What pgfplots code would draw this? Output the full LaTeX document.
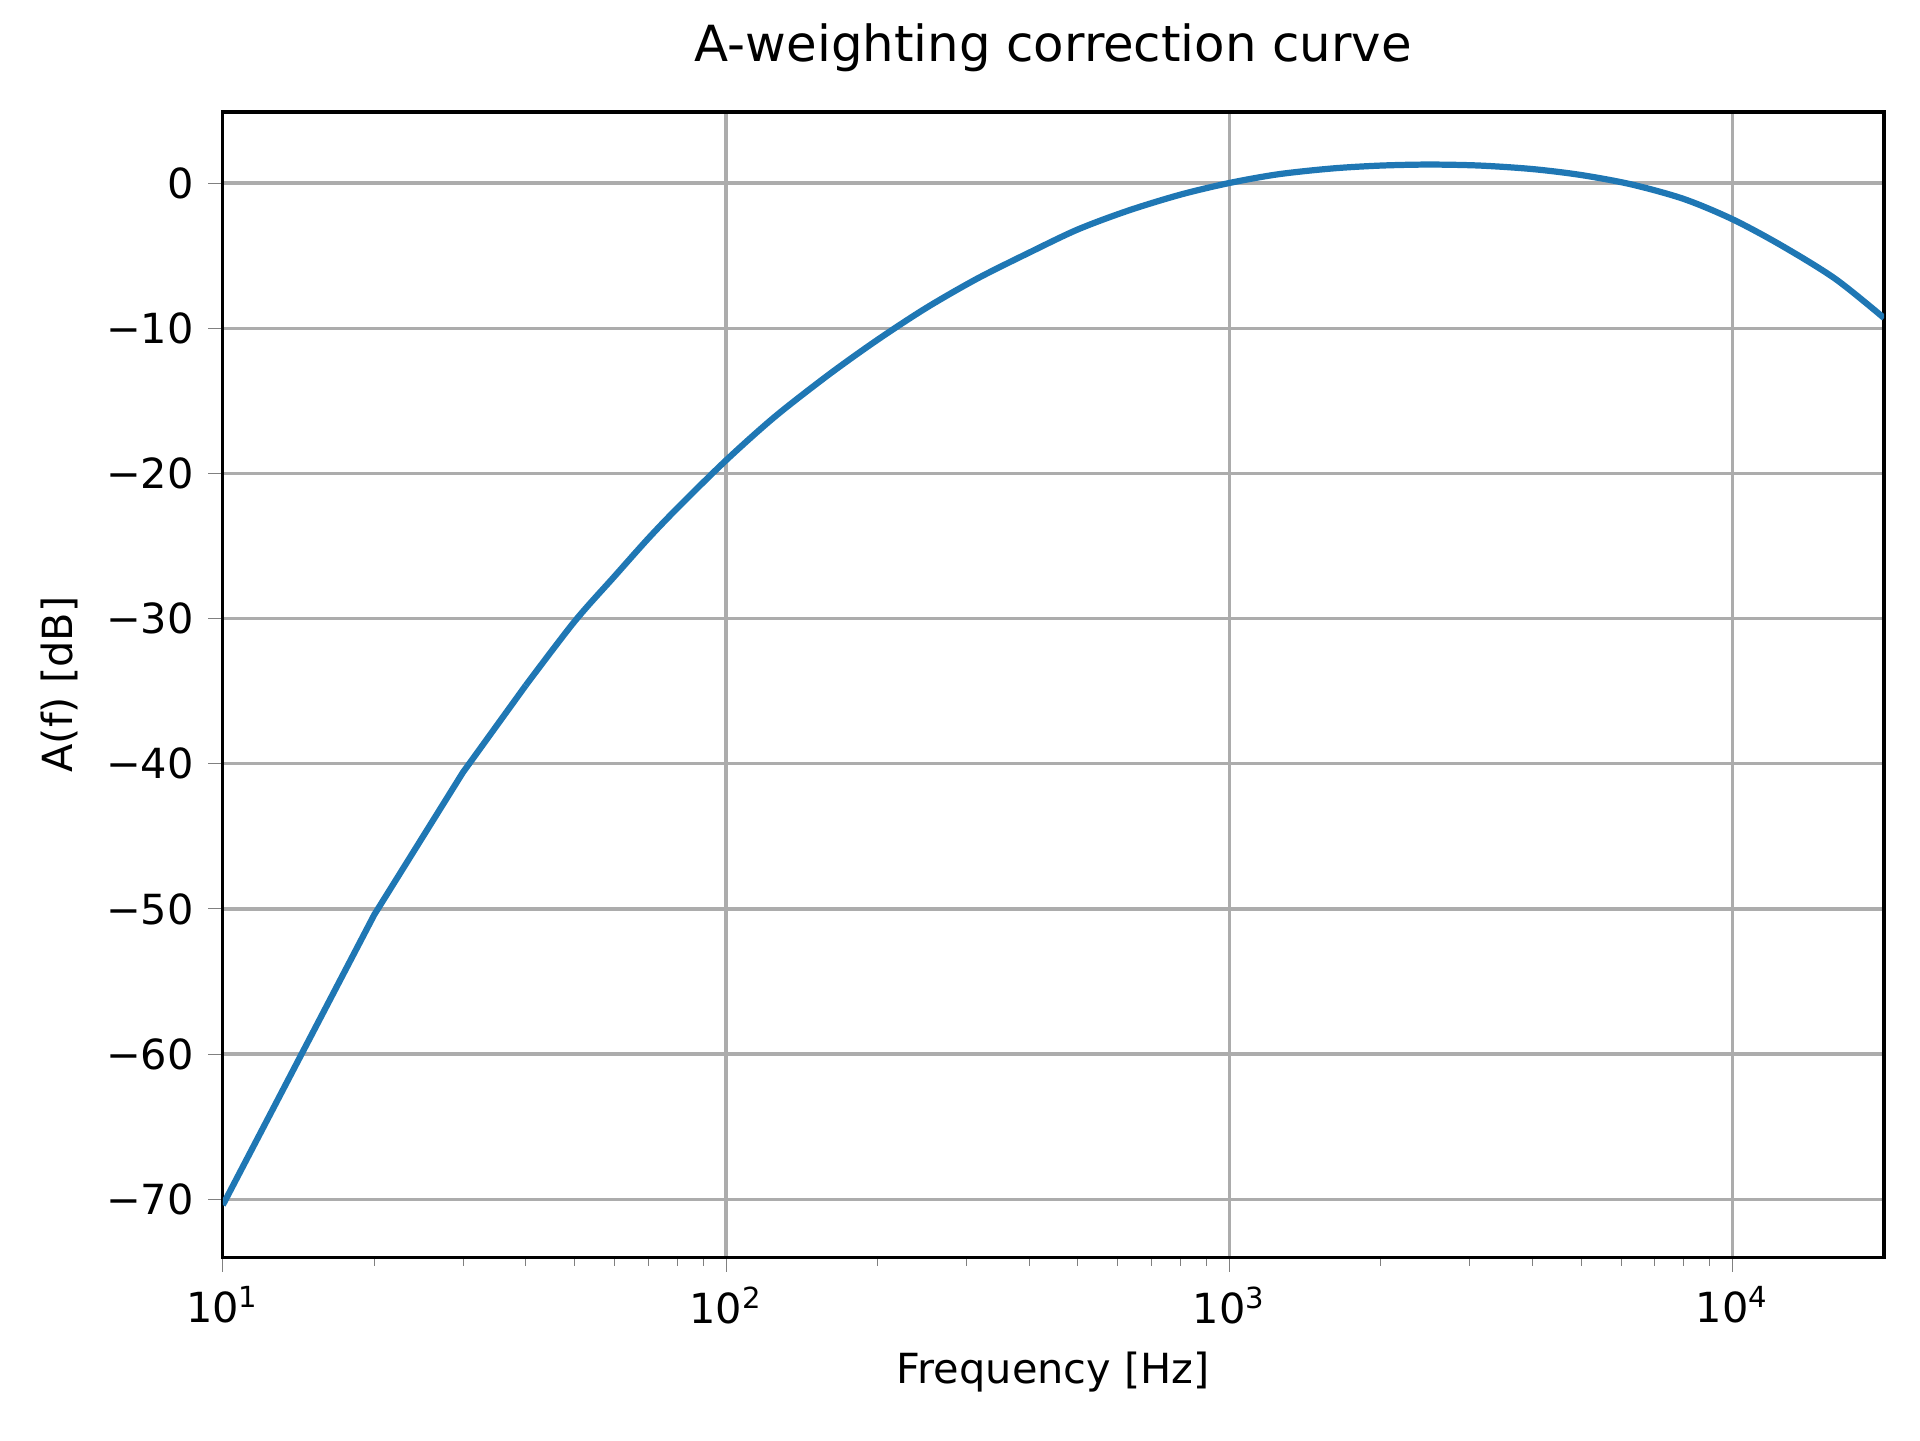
\documentclass[border=0pt]{standalone}
\usepackage{fontspec}
\setmainfont{DejaVu Sans}
\usepackage{pgfplots}
\pgfplotsset{compat=1.18}
\begin{document}
\begin{tikzpicture}[font=\fontsize{10}{12}\selectfont]
\begin{axis}[
  xmode=log, scale only axis, width=5.54in, height=3.82in,
  xmin=10, xmax=20000, ymin=-74, ymax=4.9,
  grid=major, major grid style={gray!65, line width=0.8pt},
  xtick={10,100,1000,10000},
  xticklabels={10\textsuperscript{1},10\textsuperscript{2},10\textsuperscript{3},10\textsuperscript{4}},
  ytick={-70,-60,-50,-40,-30,-20,-10,0},
  yticklabels={−70,−60,−50,−40,−30,−20,−10,0},
  tick align=outside, tick pos=left,
  major tick length=3.5pt, minor tick length=2pt,
  xlabel={Frequency [Hz]}, ylabel={A(f) [dB]},
  title={\fontsize{12}{14}\selectfont A-weighting correction curve},
  axis line style={line width=0.8pt},
]
\addplot[color={rgb,255:red,31;green,119;blue,180}, line width=1.5pt] coordinates {
(10,-70.4)(20,-50.4)(30,-40.6)(40,-34.6)};
\addplot[color={rgb,255:red,31;green,119;blue,180}, line width=1.5pt, smooth, tension=0.5] coordinates {
(40,-34.6)(50,-30.2)(60,-27.1)(70,-24.5)(80,-22.4)(100,-19.1)(125,-16.1)(160,-13.2)(200,-10.8)(250,-8.6)(315,-6.6)(400,-4.8)(500,-3.2)(630,-1.9)(800,-0.8)(1000,0)(1250,0.6)(1600,1.0)(2000,1.2)(2500,1.27)(3150,1.2)(4000,0.96)(5000,0.55)(6300,-0.1)(8000,-1.1)(10000,-2.5)(12500,-4.3)(16000,-6.6)(20000,-9.3)};
\coordinate (LL) at (rel axis cs:0,0);
\coordinate (UR) at (rel axis cs:1,1);
\end{axis}
\path (LL) ++(-0.743in,-0.61in) coordinate (A);
\path (UR) ++(0.12in,0.373in) coordinate (B);
\useasboundingbox (A) rectangle (B);
\end{tikzpicture}
\end{document}
